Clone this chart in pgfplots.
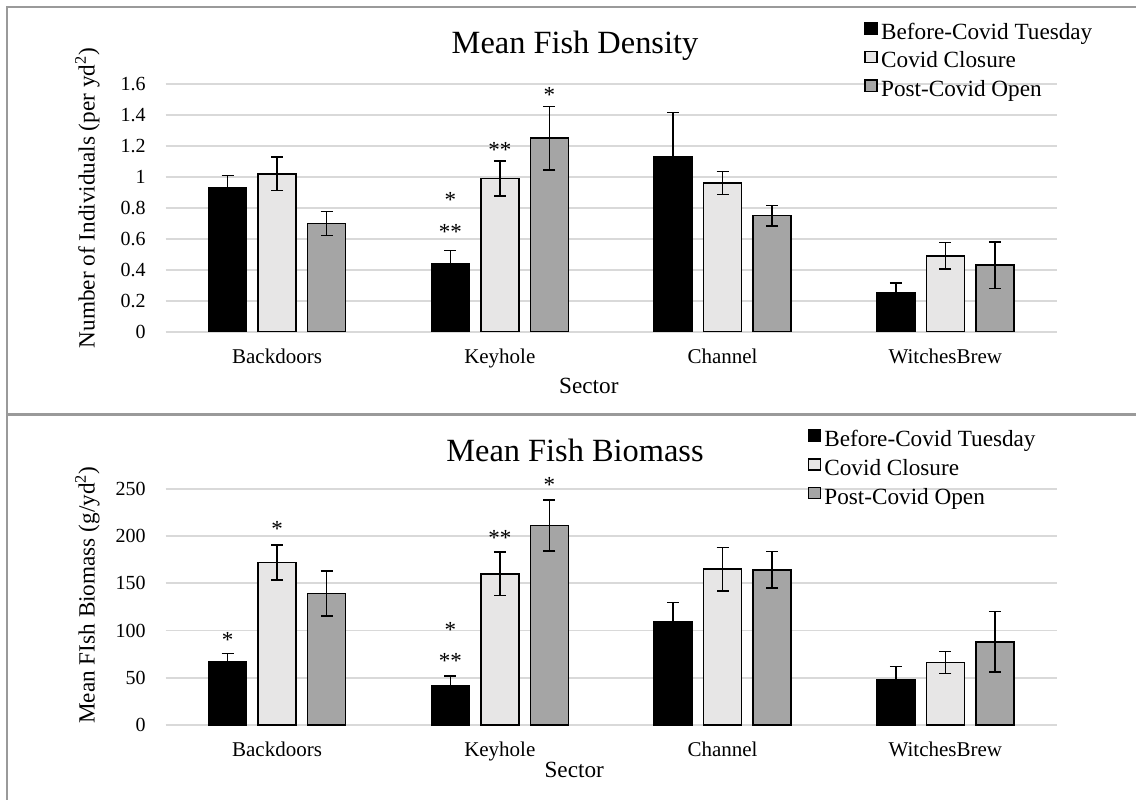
\documentclass[border=0pt]{standalone}
\usepackage{fontspec}
\setmainfont{Liberation Serif}
\usepackage{pgfplots}
\usepackage{pgfplotstable}
\pgfplotsset{compat=1.18}

\definecolor{barlight}{HTML}{E7E6E6}
\definecolor{bargray}{HTML}{A5A5A5}
\definecolor{gridgray}{HTML}{D9D9D9}
\definecolor{framegray}{HTML}{9A9A9A}

% Mean fish density (per yd^2) with error, by sector (0..3) and period
\pgfplotstableread{
x  before beforeerr closure closureerr post posterr
0  0.93   0.080     1.02    0.107      0.70 0.077
1  0.44   0.084     0.99    0.113      1.25 0.205
2  1.13   0.287     0.96    0.075      0.75 0.066
3  0.25   0.065     0.49    0.085      0.43 0.150
}\density

% Mean fish biomass (g/yd^2) with error, by sector (0..3) and period
\pgfplotstableread{
x  before beforeerr closure closureerr post posterr
0  67     8.5       172     18.7       139  23.8
1  42     10.0      160     23.0       211  26.8
2  109    20.8      165     23.0       164  19.3
3  48     13.8      66      11.7       88   31.9
}\biomass

\tikzset{sigstar/.style={inner sep=0pt, font=\fontsize{11.5}{12}\selectfont, yshift=-1.4pt}}

\pgfplotsset{
  fishbars/.style={
    scale only axis,
    width=445.5pt,
    ybar=5.75pt,
    bar width=19pt,
    xmin=-0.5, xmax=3.5,
    xtick={0,1,2,3},
    xticklabels={Backdoors,Keyhole,Channel,WitchesBrew},
    axis line style={draw=none},
    major tick length=0pt,
    ymajorgrids,
    grid style={gridgray, line width=0.8pt},
    tick label style={font=\fontsize{10}{12}\selectfont},
    /pgf/number format/assume math mode=true,
    yticklabel style={anchor=east, inner sep=0pt, xshift=-9.85pt},
    xticklabel style={anchor=base, inner sep=0pt, font=\fontsize{10.5}{12}\selectfont},
    clip=false,
    every axis title shift=0pt,
    title style={anchor=base, font=\fontsize{16.2}{18}\selectfont},
    ylabel style={anchor=center, font=\fontsize{11.6}{14}\selectfont},
    xlabel style={anchor=base, font=\fontsize{11.6}{14}\selectfont},
    legend cell align=left,
    legend style={draw=none, fill=none, inner sep=0pt, row sep=2.7pt, column sep=1.7pt,
      anchor=north west,
      nodes={inner sep=0pt, text height=8pt, text depth=3pt, font=\fontsize{11.6}{14}\selectfont}},
    legend image code/.code={\draw[#1, line width=0.7pt] (-0.8pt,0.2pt) rectangle (5.2pt,5.8pt);},
  },
  errs/.style={draw=black, line width=0.75pt,
    error bars/y dir=both, error bars/y explicit,
    error bars/error bar style={black, line width=0.75pt},
    error bars/error mark options={black, line width=0.75pt, mark size=3pt, rotate=90}},
}

\begin{document}
\begin{tikzpicture}[x=1pt,y=1pt]
\useasboundingbox (0,0) rectangle (568,400);

% panel frames
\draw[framegray, line width=0.75pt] (3.5,396.5) -- (568,396.5);
\draw[framegray, line width=1pt] (3.5,396.9) -- (3.5,0);
\draw[framegray, line width=1.5pt] (3.5,192.85) -- (568,192.85);

% density panel
\begin{axis}[fishbars,
  at={(82.85pt,234.15pt)}, anchor=south west, height=123.85pt,
  ymin=0, ymax=1.6, ytick={0,0.2,0.4,0.6,0.8,1,1.2,1.4,1.6},
  xticklabel style={yshift=-15.8pt},
  title={Mean Fish Density},
  title style={at={(axis description cs:0.4594,1.124)}},
  ylabel={Number of Individuals (per yd\textsuperscript{2})},
  ylabel style={at={(axis description cs:-0.0878,0.5398)}},
  xlabel={Sector},
  xlabel style={at={(axis description cs:0.4749,-0.2487)}},
  legend style={at={(axis description cs:0.7837,1.252)}},
]
\addplot[fill=black, errs] table[x=x, y=before, y error=beforeerr] {\density};
\addplot[fill=barlight, errs] table[x=x, y=closure, y error=closureerr] {\density};
\addplot[fill=bargray, errs] table[x=x, y=post, y error=posterr] {\density};
\legend{Before-Covid Tuesday, Covid Closure, Post-Covid Open}
\node[sigstar] at (axis cs:0.7778,0.866) {*};
\node[sigstar] at (axis cs:0.7778,0.665) {**};
\node[sigstar] at (axis cs:1,1.193) {**};
\node[sigstar] at (axis cs:1.2222,1.548) {*};
\end{axis}

% biomass panel
\begin{axis}[fishbars,
  at={(82.85pt,37.5pt)}, anchor=south west, height=118.15pt,
  ymin=0, ymax=250, ytick={0,50,100,150,200,250},
  xticklabel style={yshift=-15.5pt},
  title={Mean Fish Biomass},
  title style={at={(axis description cs:0.4594,1.1143)}},
  ylabel={Mean FIsh Biomass (g/yd\textsuperscript{2})},
  ylabel style={at={(axis description cs:-0.0878,0.5501)}},
  xlabel={Sector},
  xlabel style={at={(axis description cs:0.4585,-0.2230)}},
  legend style={at={(axis description cs:0.7200,1.2526)}},
]
\addplot[fill=black, errs] table[x=x, y=before, y error=beforeerr] {\biomass};
\addplot[fill=barlight, errs] table[x=x, y=closure, y error=closureerr] {\biomass};
\addplot[fill=bargray, errs] table[x=x, y=post, y error=posterr] {\biomass};
\legend{Before-Covid Tuesday, Covid Closure, Post-Covid Open}
\node[sigstar] at (axis cs:-0.2222,92.8) {*};
\node[sigstar] at (axis cs:0,210.8) {*};
\node[sigstar] at (axis cs:0.7778,103.4) {*};
\node[sigstar] at (axis cs:0.7778,70.6) {**};
\node[sigstar] at (axis cs:1,200.7) {**};
\node[sigstar] at (axis cs:1.2222,256.7) {*};
\end{axis}
\end{tikzpicture}
\end{document}
